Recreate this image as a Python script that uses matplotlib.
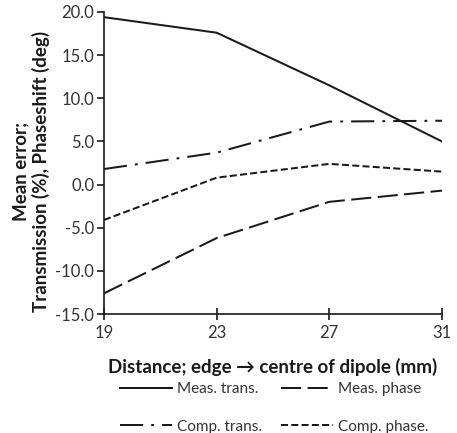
import matplotlib
matplotlib.use("Agg")
import matplotlib.pyplot as plt
from matplotlib.ticker import FormatStrFormatter

plt.rcParams['font.family'] = ['Lato', 'DejaVu Sans']
plt.rcParams['axes.unicode_minus'] = False

# distance from edge to centre of dipole (mm)
distance = [19, 23, 27, 31]

meas_trans = [19.4, 17.6, 11.5, 5.0]
meas_phase = [-12.6, -6.2, -2.0, -0.7]
comp_trans = [1.8, 3.7, 7.3, 7.4]
comp_phase = [-4.1, 0.8, 2.4, 1.5]

x_ticks = [19, 23, 27, 31]
y_ticks = [20, 15, 10, 5, 0, -5, -10, -15]

fig = plt.figure(figsize=(4.57, 4.33), dpi=100)
ax = fig.add_axes([0.2276, 0.2748, 0.7394, 0.6975])

lw = 1.45
h1, = ax.plot(distance, meas_trans, color='#1a1a1a', lw=lw, linestyle='-')
h2, = ax.plot(distance, meas_phase, color='#1a1a1a', lw=lw, linestyle=(0, (10, 3.2)))
h3, = ax.plot(distance, comp_trans, color='#1a1a1a', lw=lw, linestyle=(0, (11.5, 4, 1.4, 4)))
h4, = ax.plot(distance, comp_phase, color='#1a1a1a', lw=lw, linestyle=(0, (3.5, 1.6)))

ax.set_xlim(19, 31)
ax.set_ylim(-15, 20)
ax.set_xticks(x_ticks)
ax.set_yticks(y_ticks)
ax.yaxis.set_major_formatter(FormatStrFormatter('%.1f'))

for s in ['top', 'right']:
    ax.spines[s].set_visible(False)
for s in ['left', 'bottom']:
    ax.spines[s].set_linewidth(1.2)
    ax.spines[s].set_color('#1a1a1a')

ax.tick_params(axis='y', direction='out', length=5, width=1.2, labelsize=12,
               labelcolor='#333333', color='#1a1a1a', pad=2)
ax.tick_params(axis='x', direction='inout', length=8, width=1.2, labelsize=12,
               labelcolor='#333333', color='#1a1a1a', pad=4)

ax.set_xlabel('Distance; edge \u2192 centre of dipole (mm)', fontsize=13.5,
              fontweight='bold', color='#1a1a1a', labelpad=12)
fig.text(0.068, 0.603, 'Mean error;\nTransmission (%), Phaseshift (deg)',
         rotation=90, ha='center', va='center', fontsize=13.5,
         fontweight='bold', color='#1a1a1a', linespacing=1.2)

leg = fig.legend([h1, h3, h2, h4],
                 ['Meas. trans.', 'Comp. trans.', 'Meas. phase', 'Comp. phase.'],
                 loc='center', bbox_to_anchor=(0.6, 0.058), ncol=2,
                 frameon=False, fontsize=11, handlelength=3.4, handletextpad=0.3,
                 columnspacing=1.3, labelspacing=1.55, borderpad=0)
for t in leg.get_texts():
    t.set_color('#333333')

fig.savefig('out.png', dpi=100)
